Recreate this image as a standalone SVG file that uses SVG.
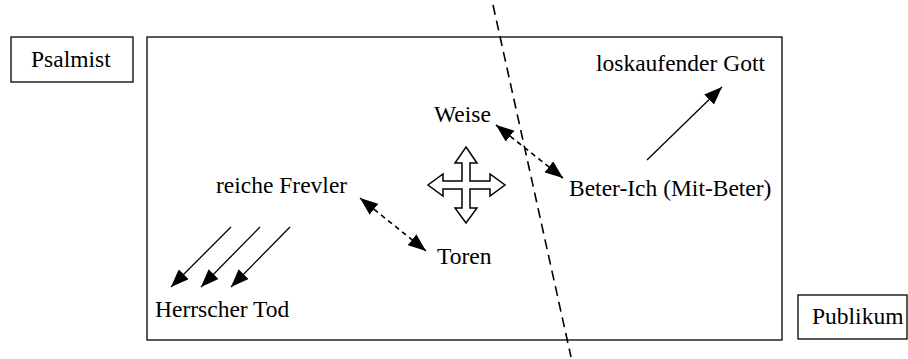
<svg xmlns="http://www.w3.org/2000/svg" width="908" height="359" viewBox="0 0 908 359">
<defs>
<style>
.box{fill:#fff;stroke:#000;stroke-width:1.3}
.t{font-family:"Liberation Serif","Times New Roman",serif;font-size:23.5px;fill:#000}
.ar{stroke:#000;stroke-width:1.3;fill:none}
.da{stroke:#000;stroke-width:1.6;fill:none;stroke-dasharray:5 4}
</style>
<marker id="ah" viewBox="0 0 18 14" refX="18" refY="7" markerWidth="18" markerHeight="14" markerUnits="userSpaceOnUse" orient="auto-start-reverse">
<path d="M0,0 L18,7 L0,14 Z" fill="#000"/>
</marker>
</defs>
<rect width="908" height="359" fill="#fff"/>
<g id="frame"><rect class="box" x="147" y="37" width="635" height="303"/></g>
<g id="psalmist"><rect class="box" x="11" y="37" width="122" height="45"/><text class="t" x="31" y="67">Psalmist</text></g>
<g id="publikum"><rect class="box" x="798" y="295" width="109" height="44"/><text class="t" x="812" y="324">Publikum</text></g>
<g id="gott"><text class="t" x="596" y="71">loskaufender Gott</text></g>
<g id="weise"><text class="t" x="434" y="122">Weise</text></g>
<g id="beter"><text class="t" x="569" y="196">Beter-Ich (Mit-Beter)</text></g>
<g id="frevler"><text class="t" x="216" y="193">reiche Frevler</text></g>
<g id="toren"><text class="t" x="437" y="264">Toren</text></g>
<g id="tod"><text class="t" x="155" y="317">Herrscher Tod</text></g>
<g id="cross"><polygon fill="#fff" stroke="#000" stroke-width="1.5" points="466,147 477,163 470,163 470,181 490,181 490,174 505,185 490,196 490,189 470,189 470,208 477,208 466,223 455,208 462,208 462,189 443,189 443,196 428,185 443,174 443,181 462,181 462,163 455,163"/></g>
<g id="connectors">
<line x1="493" y1="5" x2="571" y2="357" stroke="#000" stroke-width="1.6" stroke-dasharray="10 6"/>
<line class="da" x1="496" y1="125" x2="563" y2="178" marker-start="url(#ah)" marker-end="url(#ah)"/>
<line class="da" x1="360" y1="198" x2="426" y2="251" marker-start="url(#ah)" marker-end="url(#ah)"/>
<line class="ar" x1="231" y1="227" x2="171" y2="287" marker-end="url(#ah)"/>
<line class="ar" x1="260" y1="227" x2="201" y2="287" marker-end="url(#ah)"/>
<line class="ar" x1="290" y1="227" x2="231" y2="287" marker-end="url(#ah)"/>
<line class="ar" x1="647" y1="160" x2="722" y2="87" marker-end="url(#ah)"/>
</g>
</svg>
